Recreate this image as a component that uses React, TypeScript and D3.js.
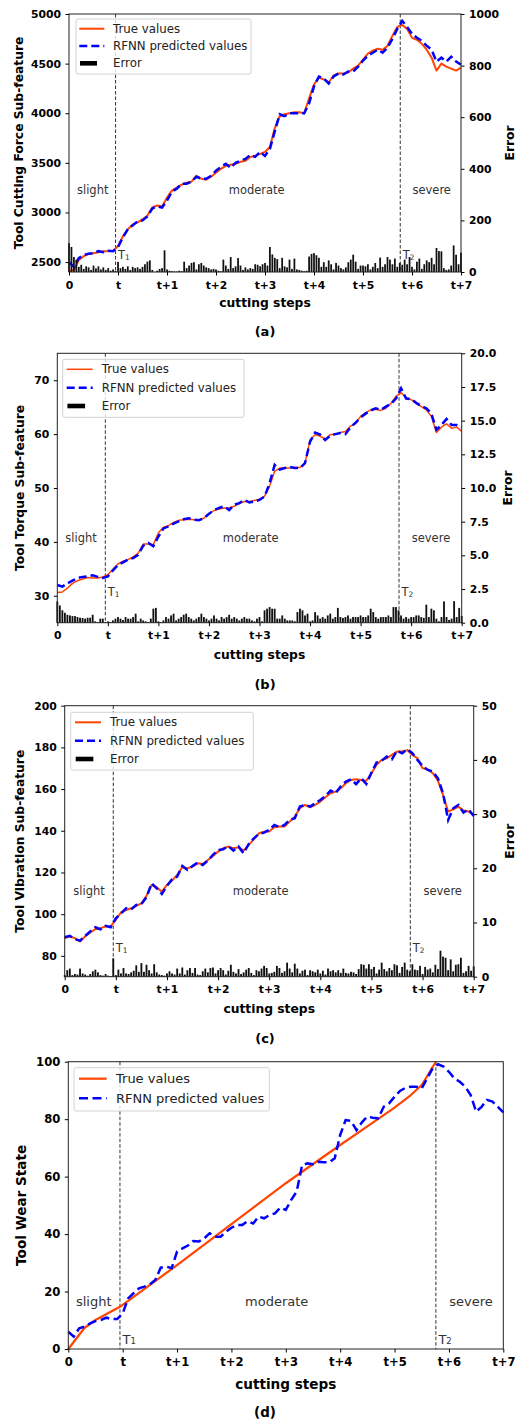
import React, { useEffect, useRef } from "react";
import * as d3 from "d3";

const FONT = "DejaVu Sans";

// x positions: series sampled every 0.1 step unit, error bars every 0.05
const steps = ["0", "t", "t+1", "t+2", "t+3", "t+4", "t+5", "t+6", "t+7"];
const stageNames = ["slight", "moderate", "severe"];
const legendNames = ["True values", "RFNN predicted values", "Error"];
const T1 = 0.95;
const T2 = 6.76;

const forceTrue = [
  2410, 2420, 2520, 2560, 2580, 2590, 2600, 2610, 2610, 2615,
  2660, 2760, 2830, 2880, 2900, 2930, 2970, 3050, 3070, 3060,
  3150, 3220, 3250, 3280, 3300, 3310, 3370, 3340, 3330, 3360,
  3400, 3440, 3470, 3480, 3490, 3510, 3520, 3560, 3570, 3590,
  3610, 3660, 3850, 3970, 3990, 4000, 4010, 4010, 4000, 4150,
  4290, 4360, 4340, 4310, 4380, 4400, 4400, 4410, 4450, 4480,
  4540, 4600, 4630, 4650, 4640, 4680, 4780, 4870, 4890, 4850,
  4760, 4740, 4700, 4640, 4560, 4430, 4500, 4470, 4450, 4430,
  4460,
];
const forcePred = [
  2500, 2450, 2540, 2570, 2585, 2590, 2610, 2600, 2615, 2610,
  2650, 2750, 2830, 2870, 2910, 2920, 2960, 3040, 3060, 3050,
  3120, 3210, 3240, 3290, 3290, 3310, 3360, 3340, 3340, 3370,
  3420, 3460, 3490, 3450, 3500, 3520, 3540, 3580, 3560, 3610,
  3570, 3640, 3820, 3990, 3970, 4000, 4000, 4000, 4000, 4100,
  4270, 4370, 4350, 4300, 4370, 4400, 4390, 4420, 4420, 4470,
  4530, 4580, 4610, 4640, 4610, 4660, 4750, 4850, 4930, 4870,
  4800, 4760, 4730, 4680, 4640, 4520, 4560, 4520, 4570, 4520,
  4490,
];
const forceErr = [
  112, 97, 58, 48, 20, 28, 12, 22, 18, 8,
  25, 14, 22, 10, 18, 8, 15, 5, 10, 4,
  39, 15, 20, 12, 22, 8, 20, 15, 18, 12,
  20, 30, 40, 45, 8, 0, 5, 12, 15, 84,
  10, 5, 3, 2, 2, 5, 3, 40, 15, 25,
  35, 38, 10, 30, 35, 25, 18, 15, 10, 12,
  10, 5, 3, 48, 25, 12, 58, 15, 22, 54,
  25, 8, 18, 10, 15, 12, 30, 28, 22, 30,
  35, 25, 97, 68, 55, 50, 15, 55, 22, 18,
  48, 12, 52, 10, 8, 5, 3, 5, 60, 70,
  73, 65, 55, 20, 38, 20, 45, 30, 10, 35,
  25, 15, 10, 18, 38, 48, 67, 40, 12, 25,
  25, 22, 30, 10, 20, 35, 15, 56, 20, 30,
  58, 48, 30, 52, 20, 35, 28, 48, 30, 58,
  20, 10, 40, 52, 12, 30, 45, 38, 55, 30,
  93, 81, 80, 15, 8, 10, 25, 103, 67, 30, 75,
];

const torqueTrue = [
  30.6, 30.7, 31.4, 32.3, 32.8, 33.1, 33.4, 33.3, 33.3, 33.5,
  33.9, 34.9, 35.9, 36.4, 36.7, 37.2, 37.9, 39.6, 39.6, 39.5,
  41.7, 42.7, 43.0, 43.6, 44.0, 44.1, 44.2, 44.1, 44.1, 44.4,
  45.3, 45.8, 46.1, 46.3, 46.3, 46.6, 47.1, 47.5, 47.5, 47.7,
  47.9, 48.5, 50.3, 53.1, 53.7, 53.7, 53.7, 53.8, 53.8, 54.6,
  58.9, 59.9, 59.6, 59.1, 59.9, 60.0, 60.3, 60.5, 61.5, 62.0,
  63.3, 64.0, 64.5, 64.6, 64.4, 64.8, 65.7, 67.0, 67.7, 66.8,
  66.4, 65.7, 65.1, 64.5, 63.3, 60.3, 61.3, 61.9, 61.1, 61.3,
  60.5,
];
const torquePred = [
  32.0, 31.7, 32.3, 32.8, 33.3, 33.5, 33.6, 33.8, 33.5, 33.3,
  33.6, 34.7, 35.7, 36.2, 36.7, 37.0, 37.6, 39.3, 39.8, 39.2,
  41.0, 42.5, 42.9, 43.4, 43.8, 44.2, 44.4, 44.1, 44.0, 44.4,
  45.2, 45.9, 46.3, 46.6, 45.9, 46.9, 47.2, 47.8, 47.3, 47.5,
  47.8, 48.4, 50.9, 54.3, 53.4, 53.7, 53.9, 53.7, 53.7, 54.6,
  58.6, 60.3, 59.9, 58.9, 59.7, 60.0, 60.2, 60.0, 61.3, 62.1,
  63.1, 63.8, 64.4, 64.8, 64.5, 65.1, 65.6, 66.6, 68.5, 66.6,
  66.5, 65.8, 65.2, 64.8, 63.8, 60.8, 61.7, 62.8, 61.7, 61.7,
  61.3,
];
const torqueErr = [
  1.58, 1.28, 0.92, 0.74, 0.59, 0.54, 0.49, 0.49, 0.42, 0.37,
  0.35, 0.3, 0.37, 0.37, 0.59, 0.1, 0.05, 0.3, 0.3, 0.05,
  0.1, 0.05, 0.17, 0.3, 0.42, 0.3, 0.2, 0.42, 0.3, 0.3,
  0.42, 0.67, 0.1, 0.3, 0.17, 0.1, 0.05, 0.3, 1.04, 1.1,
  0.1, 0.05, 0.17, 0.42, 0.3, 0.54, 0.67, 0.17, 0.3, 0.42,
  0.59, 0.67, 0.42, 0.3, 0.17, 0.3, 0.42, 0.67, 0.42, 0.3,
  0.17, 0.3, 0.54, 0.3, 0.17, 0.42, 0.3, 0.42, 0.59, 0.3,
  0.42, 0.3, 0.17, 0.3, 0.42, 0.3, 0.3, 0.17, 0.1, 0.3,
  0.42, 0.1, 0.92, 1.04, 1.16, 1.04, 1.04, 0.3, 0.3, 0.54,
  0.3, 0.17, 0.17, 0.17, 0.1, 0.79, 1.04, 0.92, 0.54, 0.67,
  0.1, 0.17, 0.79, 0.54, 0.3, 0.42, 0.3, 0.54, 0.67, 0.3,
  0.42, 1.1, 0.42, 0.35, 0.42, 0.54, 0.3, 0.42, 0.42, 0.42,
  0.54, 0.42, 0.42, 0.54, 1.04, 0.79, 0.42, 0.3, 0.42, 0.42,
  0.42, 0.54, 0.42, 1.16, 1.16, 0.92, 0.54, 0.3, 0.42, 0.3,
  0.42, 0.42, 0.54, 0.54, 0.42, 0.36, 1.34, 0.42, 1.04, 0.92,
  0.3, 0.1, 0.42, 1.58, 0.42, 0.2, 0.3, 1.6, 0.42, 1.1, 0.5,
];

const vibTrue = [
  88.5, 89.3, 88.5, 86.9, 89.3, 91.2, 92.8, 93.3, 94.1, 94.1,
  97.3, 100.8, 102.0, 102.8, 104.0, 105.2, 108.8, 114.0, 112.9, 110.8,
  114.0, 116.1, 118.8, 122.5, 122.0, 122.8, 124.4, 124.1, 126.0, 127.9,
  130.0, 131.6, 132.4, 131.6, 132.1, 130.5, 133.2, 135.9, 138.8, 139.6,
  139.6, 141.7, 142.0, 142.0, 144.4, 146.8, 150.8, 152.4, 151.3, 152.4,
  154.0, 156.1, 158.0, 158.8, 160.4, 162.8, 164.4, 164.7, 164.4, 164.0,
  167.6, 171.6, 174.0, 174.8, 176.4, 178.0, 178.0, 178.7, 176.4, 174.8,
  170.0, 169.5, 167.6, 164.0, 157.2, 149.2, 150.3, 151.6, 149.7, 149.2,
  147.6,
];
const vibPred = [
  88.9, 89.6, 88.0, 87.3, 89.6, 91.7, 93.7, 92.7, 94.4, 93.7,
  98.0, 100.4, 102.8, 102.3, 104.4, 104.9, 108.1, 114.8, 112.4, 109.7,
  113.6, 116.7, 118.0, 123.1, 121.2, 123.1, 124.7, 123.6, 125.7, 128.4,
  130.8, 131.1, 132.7, 130.5, 132.4, 129.2, 133.7, 136.4, 138.5, 139.1,
  140.4, 142.8, 141.7, 142.8, 145.2, 146.0, 151.6, 152.4, 151.6, 153.2,
  154.8, 156.7, 159.3, 158.0, 161.3, 163.6, 164.7, 162.4, 165.2, 162.4,
  167.9, 172.7, 173.6, 175.6, 174.3, 178.4, 177.2, 179.1, 177.2, 174.0,
  171.1, 169.2, 168.4, 165.2, 158.0, 145.2, 150.8, 152.4, 148.7, 150.3,
  147.1,
];
const vibErr = [
  0.3, 1.2, 1.5, 0.3, 0.5, 0.4, 1.5, 0.6, 0.4, 0.2,
  0.5, 1.0, 1.3, 0.8, 0.3, 0.2, 0.5, 0.2, 0.1, 3.4,
  0.3, 1.3, 0.6, 1.6, 0.6, 0.5, 0.8, 1.1, 2.1, 0.9,
  2.5, 0.9, 2.2, 1.2, 0.6, 2.3, 0.8, 0.4, 0.3, 0.2,
  0.6, 1.0, 0.6, 0.4, 1.5, 0.6, 1.7, 0.4, 1.2, 1.6,
  0.7, 1.6, 0.4, 0.3, 1.0, 1.5, 0.8, 1.6, 1.7, 0.6,
  1.2, 1.6, 1.2, 0.4, 1.1, 2.2, 0.9, 0.6, 1.4, 0.5,
  0.8, 1.3, 1.6, 0.7, 0.3, 1.2, 1.0, 1.5, 2.0, 1.6,
  0.6, 0.7, 0.9, 2.0, 1.6, 0.7, 1.0, 2.6, 1.5, 0.8,
  2.4, 1.5, 0.6, 1.1, 1.3, 0.3, 1.2, 1.0, 0.8, 1.3,
  0.6, 1.1, 0.4, 1.5, 1.0, 1.2, 0.8, 1.2, 0.7, 1.5,
  0.7, 0.6, 0.9, 0.8, 0.5, 1.4, 2.3, 2.2, 1.5, 2.3,
  1.4, 1.8, 0.6, 1.3, 2.6, 1.4, 1.0, 1.6, 1.2, 2.3,
  2.1, 0.7, 1.8, 2.6, 1.3, 1.0, 2.3, 1.3, 1.2, 2.0,
  0.5, 1.8, 1.3, 1.5, 0.8, 2.2, 1.4, 4.8, 3.7, 3.5,
  1.2, 3.2, 1.0, 2.2, 2.3, 3.5, 0.7, 1.0, 2.0, 1.1, 1.9,
];

// true wear curve is given at its break points (ends at T2)
const wearTrueX = [0, 0.3, 0.5, 0.95, 2, 3, 4, 5, 5.5, 6, 6.3, 6.5, 6.76];
const wearTrue = [0, 7.4, 10.1, 14.7, 29.2, 43.5, 57.7, 71.0, 77.5, 84.0, 88.4, 91.9, 100];
const wearPred = [
  6.0, 4.3, 7.2, 7.8, 8.9, 9.7, 10.1, 10.9, 10.4, 10.4,
  12.4, 17.6, 19.4, 21.1, 21.7, 22.5, 24.0, 28.3, 28.7, 28.1,
  33.9, 35.0, 36.0, 37.6, 37.4, 38.5, 40.3, 39.1, 39.1, 40.8,
  42.2, 43.2, 43.2, 44.5, 43.7, 46.1, 45.5, 46.6, 47.2, 49.2,
  48.4, 51.9, 54.8, 64.0, 64.6, 64.3, 65.2, 65.0, 65.0, 66.4,
  74.5, 79.7, 79.4, 76.2, 78.9, 80.9, 80.5, 80.3, 84.3, 85.5,
  87.8, 89.8, 90.9, 91.3, 91.3, 90.7, 94.2, 97.7, 99.1, 98.3,
  96.5, 94.2, 93.0, 91.3, 88.4, 82.6, 84.3, 86.7, 86.1, 84.3,
  82.4,
];

const small = { tick: 10.8, label: 12.3, legend: 11.8, stage: 11.5, cap: 13 };
const large = { tick: 11.6, label: 13.6, legend: 13, stage: 13, cap: 13.4 };

const panels: any[] = [
  {
    caption: "(a)", left: 69, right: 461, top: 14, bottom: 272,
    yDomain: [2400, 5000], yTicks: [2500, 3000, 3500, 4000, 4500, 5000], yFmt: d3.format("d"),
    yLabel: "Tool Cutting Force Sub-feature", yLabelX: 19,
    truth: forceTrue, pred: forcePred, err: forceErr,
    errDomain: [0, 1000], errTicks: [0, 200, 400, 600, 800, 1000], errFmt: d3.format("d"), errLabelX: 510,
    legend: { x: 76, y: 19, w: 175, h: 55, rows: [28.7, 46, 63.3], hs: 3.3, hl: 25, to: 37 },
    stageY: 190, stageX: [92.7, 256.7, 431.7], tY: 255, xLabelY: 302.7, captionY: 331.7,
    trueW: 2, dash: "8,4", fs: small,
  },
  {
    caption: "(b)", left: 57.3, right: 461.7, top: 353.3, bottom: 622.7,
    yDomain: [25, 75], yTicks: [30, 40, 50, 60, 70], yFmt: d3.format("d"),
    yLabel: "Tool Torque Sub-feature", yLabelX: 20,
    truth: torqueTrue, pred: torquePred, err: torqueErr,
    errDomain: [0, 20], errTicks: [0, 2.5, 5, 7.5, 10, 12.5, 15, 17.5, 20], errFmt: d3.format(".1f"), errLabelX: 508,
    legend: { x: 62.7, y: 359.3, w: 181.3, h: 58, rows: [369.3, 387.7, 406], hs: 4, hl: 26, to: 39 },
    stageY: 537.7, stageX: [81, 250.7, 431], tY: 591.7, xLabelY: 655, captionY: 684,
    trueW: 1.5, dash: "8,4", fs: small,
  },
  {
    caption: "(c)", left: 64.7, right: 473.7, top: 705.7, bottom: 976.7,
    yDomain: [70, 200], yTicks: [80, 100, 120, 140, 160, 180, 200], yFmt: d3.format("d"),
    yLabel: "Tool Vibration Sub-feature", yLabelX: 20,
    truth: vibTrue, pred: vibPred, err: vibErr,
    errDomain: [0, 50], errTicks: [0, 10, 20, 30, 40, 50], errFmt: d3.format("d"), errLabelX: 510,
    legend: { x: 70.7, y: 712.3, w: 182.6, h: 57.7, rows: [722.3, 740.7, 759], hs: 4.3, hl: 26, to: 39.3 },
    stageY: 891, stageX: [89, 260.7, 442.7], tY: 948.3, xLabelY: 1009.3, captionY: 1038,
    trueW: 2, dash: "8,4", fs: small,
  },
  {
    caption: "(d)", left: 68.3, right: 503.3, top: 1061.7, bottom: 1349,
    yDomain: [0, 100], yTicks: [0, 20, 40, 60, 80, 100], yFmt: d3.format("d"),
    yLabel: "Tool Wear State", yLabelX: 20.7,
    truth: wearTrue, truthX: wearTrueX, pred: wearPred,
    legend: { x: 74, y: 1067.7, w: 195.3, h: 43.3, rows: [1078.7, 1098.3], hs: 5, hl: 27.7, to: 42 },
    stageY: 1301.7, stageX: [93.7, 276.7, 471], tY: 1339, xLabelY: 1384, captionY: 1412.7, captionX: 265,
    trueW: 2.2, dash: "9,4.5", fs: large,
  },
];

function styleAxis(sel: any, size: number) {
  sel.attr("font-family", FONT).attr("font-size", size).attr("font-weight", "bold");
  sel.select(".domain").remove();
  sel.selectAll(".tick line").attr("stroke", "#000").attr("stroke-width", 1);
  sel.selectAll(".tick text").attr("fill", "#000");
}

function drawPanel(svg: any, p: any) {
  const g = svg.append("g").attr("font-family", FONT);
  const x = d3.scaleLinear().domain([0, 8]).range([p.left, p.right]);
  const y = d3.scaleLinear().domain(p.yDomain).range([p.bottom, p.top]);
  const midX = (p.left + p.right) / 2, midY = (p.top + p.bottom) / 2;

  // stage names
  stageNames.forEach((s, k) => {
    g.append("text").attr("x", p.stageX[k]).attr("y", p.stageY).attr("text-anchor", "middle")
      .attr("dominant-baseline", "central").attr("font-size", p.fs.stage).attr("fill", "#333").text(s);
  });

  // stage boundaries
  [T1, T2].forEach((t, k) => {
    g.append("line").attr("x1", x(t)).attr("x2", x(t)).attr("y1", p.top).attr("y2", p.bottom)
      .attr("stroke", "#333").attr("stroke-width", 1).attr("stroke-dasharray", "3.5,2");
    const tx = g.append("text").attr("x", x(t) + 2.5).attr("y", p.tY).attr("dominant-baseline", "central")
      .attr("font-size", p.fs.stage).attr("fill", "#333").text("T");
    tx.append("tspan").attr("font-size", p.fs.stage * 0.65).attr("dy", 2).text(String(k + 1));
  });

  // series
  const tx = p.truthX ? (d: number, i: number) => x(p.truthX[i]) : (d: number, i: number) => x(i * 0.1);
  const trueLine = d3.line<number>().x(tx).y((d) => y(d));
  const predLine = d3.line<number>().x((d, i) => x(i * 0.1)).y((d) => y(d));
  g.append("path").attr("d", trueLine(p.truth)).attr("fill", "none").attr("stroke", "#ff4500")
    .attr("stroke-width", p.trueW).attr("stroke-linejoin", "round");
  g.append("path").attr("d", predLine(p.pred)).attr("fill", "none").attr("stroke", "#0000ff")
    .attr("stroke-width", 2.5).attr("stroke-dasharray", p.dash);

  // error bars on the twin axis
  if (p.err) {
    const yr = d3.scaleLinear().domain(p.errDomain).range([p.bottom, p.top]);
    const bw = x(0.036) - x(0);
    g.append("g").selectAll("rect").data(p.err).join("rect")
      .attr("x", (d: number, i: number) => x(i * 0.05) - bw / 2).attr("y", (d: number) => yr(d))
      .attr("width", bw).attr("height", (d: number) => p.bottom - yr(d)).attr("fill", "#111");
    const ra = g.append("g").attr("transform", `translate(${p.right},0)`)
      .call(d3.axisRight(yr).tickValues(p.errTicks).tickFormat(p.errFmt).tickSize(3.5).tickPadding(4.5));
    styleAxis(ra, p.fs.tick);
    g.append("text").attr("transform", `translate(${p.errLabelX},${midY}) rotate(-90)`)
      .attr("text-anchor", "middle").attr("dominant-baseline", "central")
      .attr("font-size", p.fs.label).attr("font-weight", "bold").text("Error");
  }

  // frame
  g.append("rect").attr("x", p.left).attr("y", p.top).attr("width", p.right - p.left)
    .attr("height", p.bottom - p.top).attr("fill", "none").attr("stroke", "#222").attr("stroke-width", 1);

  const xa = g.append("g").attr("transform", `translate(0,${p.bottom})`)
    .call(d3.axisBottom(x).tickValues(d3.range(0, 9)).tickFormat((d: any, i: number) => steps[i]).tickSize(3.5).tickPadding(5.5));
  styleAxis(xa, p.fs.tick);
  const ya = g.append("g").attr("transform", `translate(${p.left},0)`)
    .call(d3.axisLeft(y).tickValues(p.yTicks).tickFormat(p.yFmt).tickSize(3.5).tickPadding(4.5));
  styleAxis(ya, p.fs.tick);

  g.append("text").attr("x", midX).attr("y", p.xLabelY).attr("text-anchor", "middle")
    .attr("dominant-baseline", "central").attr("font-size", p.fs.label).attr("font-weight", "bold").text("cutting steps");
  g.append("text").attr("transform", `translate(${p.yLabelX},${midY}) rotate(-90)`)
    .attr("text-anchor", "middle").attr("dominant-baseline", "central")
    .attr("font-size", p.fs.label).attr("font-weight", "bold").text(p.yLabel);
  g.append("text").attr("x", p.captionX ?? 265).attr("y", p.captionY).attr("text-anchor", "middle")
    .attr("dominant-baseline", "central").attr("font-size", p.fs.cap).attr("font-weight", "bold").text(p.caption);

  // legend
  const L = p.legend;
  const lg = g.append("g");
  lg.append("rect").attr("x", L.x).attr("y", L.y).attr("width", L.w).attr("height", L.h).attr("rx", 2)
    .attr("fill", "white").attr("fill-opacity", 0.8).attr("stroke", "#d3d3d3").attr("stroke-width", 1);
  const x0 = L.x + L.hs, x1 = L.x + L.hs + L.hl;
  lg.append("line").attr("x1", x0).attr("x2", x1).attr("y1", L.rows[0]).attr("y2", L.rows[0])
    .attr("stroke", "#ff4500").attr("stroke-width", p.trueW);
  lg.append("line").attr("x1", x0).attr("x2", x1).attr("y1", L.rows[1]).attr("y2", L.rows[1])
    .attr("stroke", "#0000ff").attr("stroke-width", 2.5).attr("stroke-dasharray", p.dash);
  if (p.err) {
    lg.append("rect").attr("x", x0 + 0.7).attr("y", L.rows[2] - 2.3).attr("width", L.hl * 0.68).attr("height", 4.6).attr("fill", "#000");
  }
  L.rows.forEach((ry: number, k: number) => {
    lg.append("text").attr("x", L.x + L.to).attr("y", ry).attr("dominant-baseline", "central")
      .attr("font-size", p.fs.legend).attr("fill", "#222").text(legendNames[k]);
  });
}

export default function App() {
  const ref = useRef<SVGSVGElement>(null);
  useEffect(() => {
    const svg = d3.select(ref.current);
    svg.selectAll("*").remove();
    panels.forEach((p) => drawPanel(svg, p));
  }, []);
  return (
    <svg ref={ref} width={532} height={1423}
      style={{ position: "absolute", left: 0, top: 0, background: "white" }} />
  );
}
